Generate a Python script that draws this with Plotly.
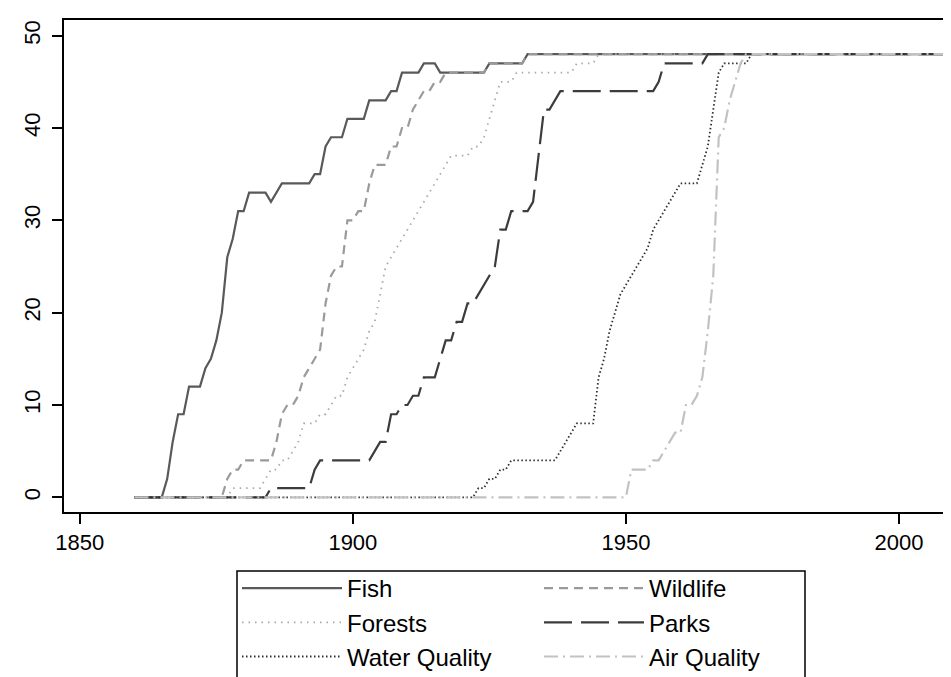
import plotly.graph_objects as go

years = list(range(1860, 2011))

fish = [0,0,0,0,0,0,2,6,9,9,
        12,12,12,14,15,17,20,26,28,31,
        31,33,33,33,33,32,33,34,34,34,
        34,34,34,35,35,38,39,39,39,41,
        41,41,41,43,43,43,43,44,44,46,
        46,46,46,47,47,47,46,46,46,46,
        46,46,46,46,46,47,47,47,47,47,
        47,47,48,48,48,48,48,48,48,48,
        48,48,48,48,48,48,48,48,48,48,
        48,48,48,48,48,48,48,48,48,48,
        48,48,48,48,48,48,48,48,48,48,
        48,48,48,48,48,48,48,48,48,48,
        48,48,48,48,48,48,48,48,48,48,
        48,48,48,48,48,48,48,48,48,48,
        48,48,48,48,48,48,48,48,48,48,
        48]

wildlife = [0,0,0,0,0,0,0,0,0,0,
            0,0,0,0,0,0,0,2,3,3,
            4,4,4,4,4,4,6,9,10,10,
            11,13,14,15,16,21,24,25,25,30,
            30,31,31,34,36,36,36,38,38,40,
            40,42,43,44,44,45,45,46,46,46,
            46,46,46,46,46,47,47,47,47,47,
            47,47,48,48,48,48,48,48,48,48,
            48,48,48,48,48,48,48,48,48,48,
            48,48,48,48,48,48,48,48,48,48,
            48,48,48,48,48,48,48,48,48,48,
            48,48,48,48,48,48,48,48,48,48,
            48,48,48,48,48,48,48,48,48,48,
            48,48,48,48,48,48,48,48,48,48,
            48,48,48,48,48,48,48,48,48,48,
            48]

forests = [0,0,0,0,0,0,0,0,0,0,
           0,0,0,0,0,0,0,0,1,1,
           1,1,1,1,2,3,3,4,4,5,
           6,8,8,8,9,9,10,11,11,13,
           14,15,16,18,19,22,25,26,27,28,
           29,30,31,32,33,34,35,36,37,37,
           37,37,38,38,39,41,43,45,45,45,
           46,46,46,46,46,46,46,46,46,46,
           46,47,47,47,47,48,48,48,48,48,
           48,48,48,48,48,48,48,48,48,48,
           48,48,48,48,48,48,48,48,48,48,
           48,48,48,48,48,48,48,48,48,48,
           48,48,48,48,48,48,48,48,48,48,
           48,48,48,48,48,48,48,48,48,48,
           48,48,48,48,48,48,48,48,48,48,
           48]

parks = [0,0,0,0,0,0,0,0,0,0,
         0,0,0,0,0,0,0,0,0,0,
         0,0,0,0,0,1,1,1,1,1,
         1,1,1,3,4,4,4,4,4,4,
         4,4,4,4,5,6,6,9,9,10,
         10,11,11,13,13,13,15,17,17,19,
         19,21,21,22,23,24,25,29,29,31,
         31,31,31,32,37,42,42,43,44,44,
         44,44,44,44,44,44,44,44,44,44,
         44,44,44,44,44,44,45,47,47,47,
         47,47,47,47,47,48,48,48,48,48,
         48,48,48,48,48,48,48,48,48,48,
         48,48,48,48,48,48,48,48,48,48,
         48,48,48,48,48,48,48,48,48,48,
         48,48,48,48,48,48,48,48,48,48,
         48]

water = [0,0,0,0,0,0,0,0,0,0,
         0,0,0,0,0,0,0,0,0,0,
         0,0,0,0,0,0,0,0,0,0,
         0,0,0,0,0,0,0,0,0,0,
         0,0,0,0,0,0,0,0,0,0,
         0,0,0,0,0,0,0,0,0,0,
         0,0,0,1,1,2,2,3,3,4,
         4,4,4,4,4,4,4,4,5,6,
         7,8,8,8,8,13,15,18,20,22,
         23,24,25,26,27,29,30,31,32,33,
         34,34,34,34,36,38,42,46,47,47,
         47,47,47,48,48,48,48,48,48,48,
         48,48,48,48,48,48,48,48,48,48,
         48,48,48,48,48,48,48,48,48,48,
         48,48,48,48,48,48,48,48,48,48,
         48]

air = [0,0,0,0,0,0,0,0,0,0,
       0,0,0,0,0,0,0,0,0,0,
       0,0,0,0,0,0,0,0,0,0,
       0,0,0,0,0,0,0,0,0,0,
       0,0,0,0,0,0,0,0,0,0,
       0,0,0,0,0,0,0,0,0,0,
       0,0,0,0,0,0,0,0,0,0,
       0,0,0,0,0,0,0,0,0,0,
       0,0,0,0,0,0,0,0,0,0,
       0,3,3,3,3,4,4,5,6,7,
       7,10,10,11,13,18,24,39,40,43,
       45,47,48,48,48,48,48,48,48,48,
       48,48,48,48,48,48,48,48,48,48,
       48,48,48,48,48,48,48,48,48,48,
       48,48,48,48,48,48,48,48,48,48,
       48]

x_ticks = [1850, 1900, 1950, 2000]
y_ticks = [0, 10, 20, 30, 40, 50]

series = [
    ("Fish", fish, "#595959", "solid", 2.2, "legend"),
    ("Wildlife", wildlife, "#9a9a9a", "9px,6px", 2.2, "legend2"),
    ("Forests", forests, "#a8a8a8", "1.5px,5px", 1.8, "legend"),
    ("Parks", parks, "#3c3c3c", "28px,9px", 2.2, "legend2"),
    ("Water Quality", water, "#2e2e2e", "1.5px,2.5px", 1.8, "legend"),
    ("Air Quality", air, "#c2c2c2", "14px,5px,2px,5px", 2.2, "legend2"),
]

fig = go.Figure()
for i, (name, vals, color, dash, width, leg) in enumerate(series):
    fig.add_trace(go.Scatter(
        x=years, y=vals, mode="lines", name=name, legend=leg,
        legendgroup="g%d" % i,
        line=dict(color=color, dash=dash, width=width),
    ))

W, H = 951, 677
L, R, T, B = 56, 0, 12, 173
pw, ph = W - L - R, H - T - B

def px_x(p):
    return (p - L) / pw

def px_y(p):
    return (H - B - p) / ph

font = "Liberation Sans, Arial, sans-serif"

fig.update_layout(
    width=W, height=H,
    margin=dict(l=L, r=R, t=T, b=B, autoexpand=False),
    paper_bgcolor="white", plot_bgcolor="white",
    font=dict(family=font, size=22, color="black"),
    showlegend=True,
    xaxis=dict(
        range=[1847.1, 2011.0], tickvals=x_ticks, ticktext=[str(v) for v in x_ticks],
        showline=True, linecolor="black", linewidth=2, mirror=True,
        ticks="outside", ticklen=10, tickwidth=1.5, tickcolor="black",
        showgrid=False, zeroline=False, automargin=False,
        tickfont=dict(size=22, family=font),
    ),
    yaxis=dict(
        range=[-1.59, 51.7], tickvals=y_ticks, ticktext=[str(v) for v in y_ticks],
        showline=True, linecolor="black", linewidth=2,
        ticks="outside", ticklen=10, tickwidth=1.5, tickcolor="black",
        showgrid=False, zeroline=False, tickangle=-90, automargin=False,
        ticklabelstandoff=3,
        tickfont=dict(size=22, family=font),
    ),
    legend=dict(
        x=px_x(229), y=px_y(558), xanchor="left", yanchor="top",
        bgcolor="rgba(0,0,0,0)", borderwidth=0, itemwidth=100,
        font=dict(size=24, family=font), tracegroupgap=0,
        traceorder="grouped", itemclick=False, itemdoubleclick=False,
    ),
    legend2=dict(
        x=px_x(531), y=px_y(558), xanchor="left", yanchor="top",
        bgcolor="rgba(0,0,0,0)", borderwidth=0, itemwidth=100,
        font=dict(size=24, family=font), tracegroupgap=0,
        traceorder="grouped", itemclick=False, itemdoubleclick=False,
    ),
    shapes=[dict(
        type="rect", xref="paper", yref="paper",
        x0=px_x(229), x1=px_x(797), y0=px_y(700), y1=px_y(563),
        line=dict(color="black", width=1.5), fillcolor="rgba(0,0,0,0)",
    )],
)

fig.write_html("out.html")
